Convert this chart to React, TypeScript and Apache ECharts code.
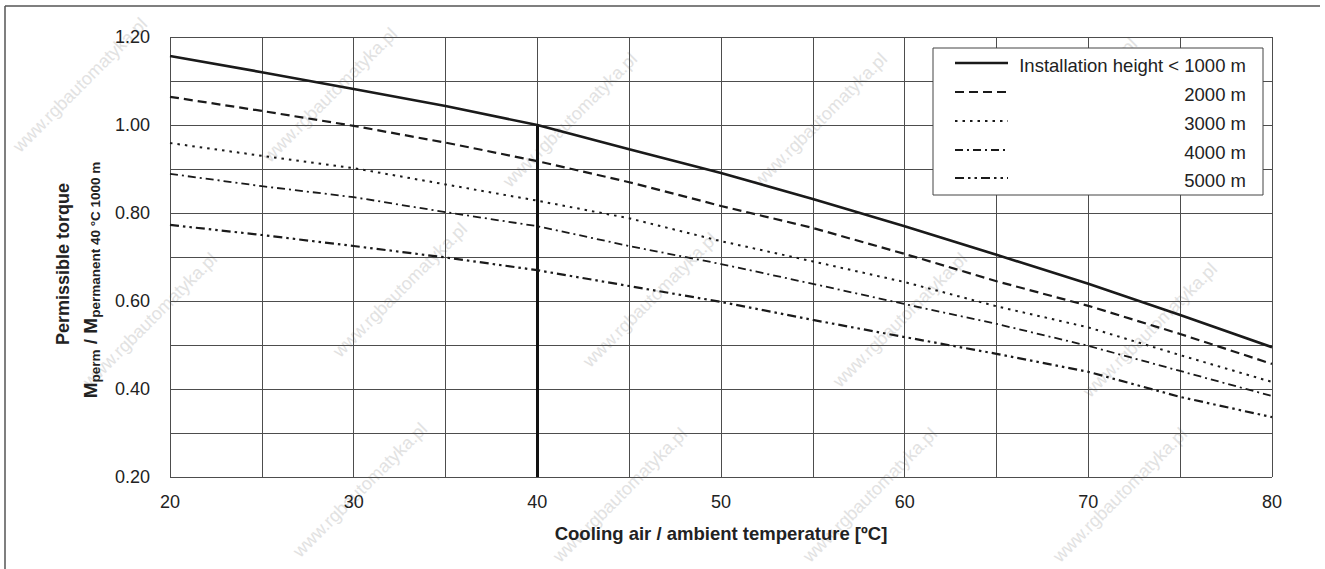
import React, { useEffect, useRef } from "react";
import * as echarts from "echarts";

const temps = [20, 25, 30, 35, 40, 45, 50, 55, 60, 65, 70, 75, 80];
const h1000 = [1.157, 1.12, 1.082, 1.043, 1.0, 0.945, 0.891, 0.832, 0.77, 0.705, 0.639, 0.568, 0.495];
const h2000 = [1.064, 1.032, 0.998, 0.96, 0.918, 0.87, 0.816, 0.766, 0.707, 0.645, 0.589, 0.525, 0.457];
const h3000 = [0.959, 0.93, 0.902, 0.865, 0.828, 0.788, 0.736, 0.69, 0.643, 0.588, 0.54, 0.477, 0.416];
const h4000 = [0.889, 0.861, 0.836, 0.802, 0.77, 0.725, 0.684, 0.639, 0.593, 0.548, 0.498, 0.441, 0.384];
const h5000 = [0.773, 0.75, 0.725, 0.699, 0.67, 0.634, 0.598, 0.557, 0.518, 0.48, 0.439, 0.382, 0.336];

const seriesNames = ["Installation height < 1000 m", "2000 m", "3000 m", "4000 m", "5000 m"];
const seriesData = [h1000, h2000, h3000, h4000, h5000];
const dashes: any[] = ["solid", [9, 5], [2.5, 5], [8, 4, 2, 4], [9, 4, 2.5, 4, 2.5, 4]];
const widths = [2.6, 2.2, 2, 1.8, 2.2];

const refTemp = 40;
const refValue = 1.0;

const xTitle = "Cooling air / ambient temperature [ºC]";
const yTitle1 = "Permissible torque";
const watermark = "www.rgbautomatyka.pl";

const FONT = "'Liberation Sans', Arial, Helvetica, sans-serif";
const INK = "#1a1a1a";

export default function App() {
  const ref = useRef<HTMLDivElement>(null);

  useEffect(() => {
    if (!ref.current) return;
    const chart = echarts.init(ref.current, undefined, { renderer: "svg" });

    const wmPos = [
      [80, 85], [330, 95], [570, 120], [820, 120], [1070, 105],
      [150, 320], [400, 290], [650, 300], [900, 320], [1150, 330],
      [360, 490], [620, 495], [870, 495], [1120, 495],
    ];
    const wmGraphics = wmPos.map(([x, y]) => ({
      type: "text",
      x,
      y,
      rotation: Math.PI / 4,
      z: 0,
      silent: true,
      style: {
        text: watermark,
        fill: "#e2e2e2",
        font: `18px ${FONT}`,
        textAlign: "center",
        textVerticalAlign: "middle",
      },
    }));

    const legendRows = [63, 92, 121, 150, 178];
    const legendGraphics: any[] = [
      {
        type: "rect",
        z: 100,
        shape: { x: 933, y: 48, width: 330, height: 147 },
        style: { fill: "#ffffff", stroke: "#444", lineWidth: 1 },
      },
    ];
    seriesNames.forEach((name, i) => {
      legendGraphics.push({
        type: "line",
        z: 101,
        shape: { x1: 955, y1: legendRows[i], x2: 1008, y2: legendRows[i] },
        style: {
          stroke: INK,
          lineWidth: widths[i],
          lineDash: dashes[i] === "solid" ? null : dashes[i],
        },
      });
      legendGraphics.push({
        type: "text",
        z: 101,
        x: 1246,
        y: legendRows[i] + 2,
        style: {
          text: name,
          fill: "#222",
          font: `18.5px ${FONT}`,
          textAlign: "right",
          textVerticalAlign: "middle",
        },
      });
    });

    const option: any = {
      animation: false,
      backgroundColor: "#ffffff",
      grid: { left: 170, right: 53, top: 37, bottom: 92, containLabel: false },
      xAxis: {
        type: "value",
        min: 20,
        max: 80,
        interval: 5,
        name: xTitle,
        nameLocation: "middle",
        nameGap: 47,
        nameTextStyle: { fontFamily: FONT, fontSize: 18.5, fontWeight: "bold", color: "#222" },
        axisLine: { show: false },
        axisTick: { show: false },
        splitLine: { show: true, lineStyle: { color: "#4d4d4d", width: 1 } },
        axisLabel: {
          fontFamily: FONT,
          fontSize: 18,
          color: "#222",
          margin: 16,
          showMinLabel: true,
          showMaxLabel: true,
          formatter: (v: number) => (Math.round(v) % 10 === 0 ? String(Math.round(v)) : ""),
        },
      },
      yAxis: {
        type: "value",
        min: 0.2,
        max: 1.2,
        interval: 0.1,
        axisLine: { show: false },
        axisTick: { show: false },
        splitLine: { show: true, lineStyle: { color: "#4d4d4d", width: 1 } },
        axisLabel: {
          fontFamily: FONT,
          fontSize: 18,
          color: "#222",
          margin: 20,
          showMinLabel: true,
          showMaxLabel: true,
          formatter: (v: number) => (Math.round(v * 10) % 2 === 0 ? v.toFixed(2) : ""),
        },
      },
      series: seriesNames.map((name, i) => ({
        name,
        type: "line",
        data: temps.map((t, k) => [t, seriesData[i][k]]),
        showSymbol: false,
        symbol: "none",
        smooth: false,
        z: 5,
        lineStyle: { color: INK, width: widths[i], type: dashes[i] },
        markLine:
          i === 0
            ? {
                silent: true,
                symbol: "none",
                label: { show: false },
                lineStyle: { color: "#111", width: 3, type: "solid" },
                data: [[{ coord: [refTemp, refValue] }, { coord: [refTemp, 0.2] }]],
              }
            : undefined,
      })),
      graphic: [
        ...wmGraphics,
        {
          type: "line",
          z: 1,
          shape: { x1: 5, y1: 6, x2: 1320, y2: 6 },
          style: { stroke: "#555", lineWidth: 1.5 },
        },
        {
          type: "line",
          z: 1,
          shape: { x1: 5, y1: 6, x2: 5, y2: 569 },
          style: { stroke: "#555", lineWidth: 1.5 },
        },
        {
          type: "text",
          x: 63,
          y: 264,
          rotation: Math.PI / 2,
          style: {
            text: yTitle1,
            fill: "#222",
            font: `bold 18px ${FONT}`,
            textAlign: "center",
            textVerticalAlign: "middle",
          },
        },
        {
          type: "text",
          x: 90,
          y: 280,
          rotation: Math.PI / 2,
          style: {
            text: "{b|M}{s|perm}{b| / M}{s|permanent 40 °C 1000 m}",
            fill: "#222",
            textAlign: "center",
            textVerticalAlign: "middle",
            rich: {
              b: { fontFamily: FONT, fontSize: 19, fontWeight: "bold", lineHeight: 24, verticalAlign: "middle", fill: "#222" },
              s: { fontFamily: FONT, fontSize: 13.5, fontWeight: "bold", lineHeight: 13, verticalAlign: "bottom", fill: "#222" },
            },
          },
        },
        ...legendGraphics,
      ],
    };

    chart.setOption(option);
    return () => chart.dispose();
  }, []);

  return (
    <div
      ref={ref}
      style={{ position: "absolute", left: 0, top: 0, width: 1325, height: 569, background: "#fff" }}
    />
  );
}
